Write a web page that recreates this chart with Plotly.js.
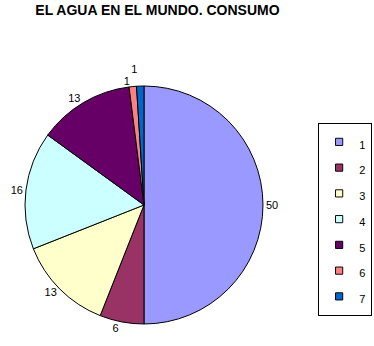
<!DOCTYPE html>
<html>
<head>
<meta charset="utf-8">
<script src="https://cdn.plot.ly/plotly-3.0.1.min.js"></script>
<style>html,body{margin:0;padding:0;background:#fff}#chart{width:374px;height:346px}</style>
</head>
<body>
<div id="chart"></div>
<script>
const categories = ["1", "2", "3", "4", "5", "6", "7"];
const values = [50, 6, 13, 16, 13, 1, 1];
const sliceColors = ["#9999FF", "#993366", "#FFFFCC", "#CCFFFF", "#660066", "#FF8080", "#0066CC"];
const chartTitle = "EL AGUA EN EL MUNDO. CONSUMO";

const legendLabels = categories.map(c => '<span style="font-size:11px">' + c + '</span>');

const trace = {
  type: 'pie',
  labels: legendLabels,
  values: values,
  sort: false,
  direction: 'clockwise',
  rotation: 0,
  marker: { colors: sliceColors, line: { color: '#000000', width: 1 } },
  textinfo: 'value',
  textposition: 'outside',
  textfont: { family: 'Liberation Sans, Arial, sans-serif', size: 11, color: '#000000' },
  outsidetextfont: { family: 'Liberation Sans, Arial, sans-serif', size: 11, color: '#000000' },
  domain: { x: [0.0668, 0.7032], y: [0.0636, 0.7514] },
  hoverinfo: 'none'
};

const layout = {
  width: 374, height: 346,
  margin: { l: 0, r: 0, t: 0, b: 0, autoexpand: false },
  paper_bgcolor: '#ffffff',
  plot_bgcolor: '#ffffff',
  font: { family: 'Liberation Sans, Arial, sans-serif', color: '#000000' },
  title: {
    text: '<b>' + chartTitle + '</b>',
    font: { family: 'Liberation Sans, Arial, sans-serif', size: 14, color: '#000000' },
    x: 0.421, xref: 'container', xanchor: 'center',
    y: 0.971, yref: 'container', yanchor: 'middle'
  },
  showlegend: true,
  legend: {
    x: 0.995, xanchor: 'right', xref: 'container',
    y: 0.6445, yanchor: 'top', yref: 'container',
    maxheight: 300,
    bgcolor: '#ffffff', bordercolor: '#000000', borderwidth: 1,
    font: { family: 'Liberation Sans, Arial, sans-serif', size: 17.5, color: '#000000' },
    itemwidth: 30, traceorder: 'normal'
  }
};

Plotly.newPlot('chart', [trace], layout, { displayModeBar: false, staticPlot: true }).then(function () {
  document.querySelectorAll('#chart .legendpoints path').forEach(function (p) {
    var t = p.getAttribute('transform') || '';
    p.setAttribute('transform', t + ' scale(0.6)');
    p.style.strokeWidth = '1.6px';
  });
  document.querySelectorAll('#chart path.textline').forEach(function (p) {
    p.style.display = 'none';
  });
});
</script>
</body>
</html>
